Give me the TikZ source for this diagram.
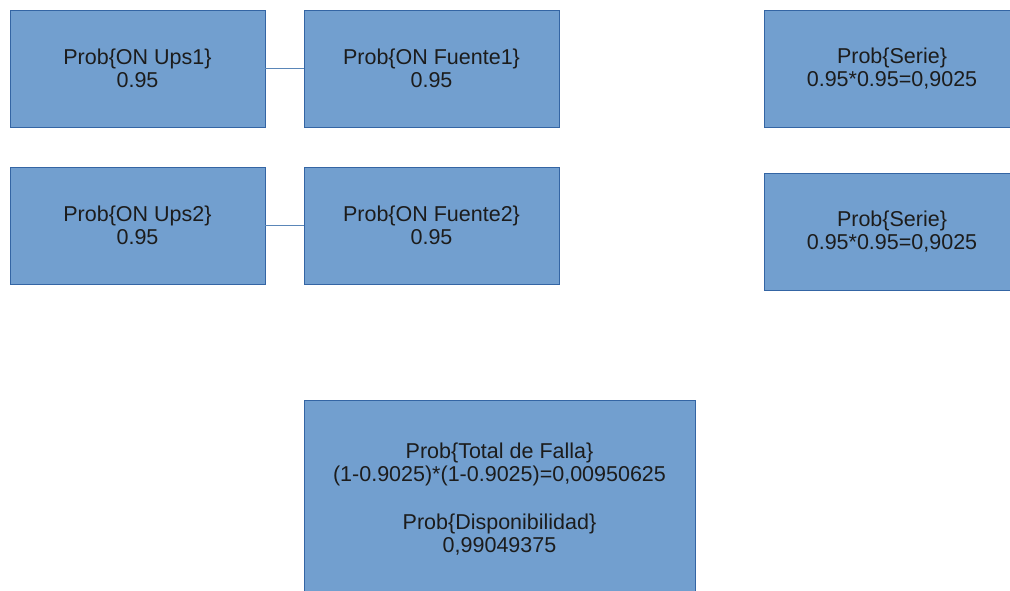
\documentclass[tikz,border=0pt]{standalone}
\usepackage{fontspec}
\setmainfont{Liberation Sans}
\definecolor{boxfill}{HTML}{729FCF}
\definecolor{boxline}{HTML}{3465A4}
\definecolor{linkline}{HTML}{5A86B8}
\definecolor{txt}{HTML}{1C1C1C}
\begin{document}
\begin{tikzpicture}[x=1pt,y=-1pt,
  box/.style={draw=boxline, fill=boxfill, line width=0.9pt, inner sep=0pt,
    text=txt, align=center, font=\fontsize{21.5}{23}\selectfont},
  unit/.style={box, minimum width=255pt, minimum height=117pt},
  link/.style={draw=linkline, line width=1.2pt}]
\useasboundingbox (0,0) rectangle (1010,590);
\fill[white] (0,0) rectangle (1010,590);

% first branch
\node[unit] (ups1) at (137.5,68.5) {Prob\{ON Ups1\}\\0.95};
\node[unit] (fue1) at (431.5,68.5) {Prob\{ON Fuente1\}\\0.95};
\node[unit] (ser1) at (892,68.5) {Prob\{Serie\}\\0.95*0.95=0,9025};

% second branch
\node[unit] (ups2) at (137.5,225.5) {Prob\{ON Ups2\}\\0.95};
\node[unit] (fue2) at (431.5,225.5) {Prob\{ON Fuente2\}\\0.95};
\node[unit] (ser2) at (892,231.5) {Prob\{Serie\}\\0.95*0.95=0,9025};

% overall result
\node[box, minimum width=391pt, minimum height=198pt] (total) at (499.5,499)
  {Prob\{Total de Falla\}\\(1-0.9025)*(1-0.9025)=0,00950625\\[25pt]Prob\{Disponibilidad\}\\0,99049375};

\draw[link] (ups1.east) -- (fue1.west);
\draw[link] (ups2.east) -- (fue2.west);
\end{tikzpicture}
\end{document}
